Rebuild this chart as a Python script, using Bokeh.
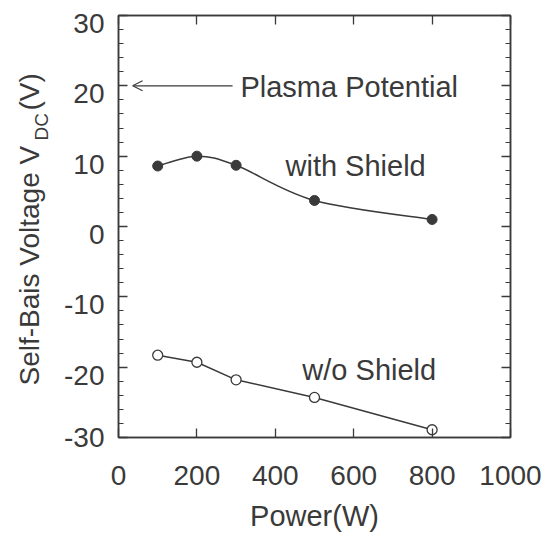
import math
from bokeh.plotting import figure
from bokeh.layouts import row
from bokeh.models import (Range1d, LinearAxis, SingleIntervalTicker, FixedTicker,
                          Label, Arrow, OpenHead, CustomJSTickFormatter)
from bokeh.core.properties import value
from bokeh.embed import file_html
from bokeh.resources import INLINE

# ---- data ----
power_with = [100, 200, 300, 500, 800]
vdc_with = [8.6, 10.0, 8.7, 3.7, 1.0]
power_without = [100, 200, 300, 500, 800]
vdc_without = [-18.3, -19.3, -21.8, -24.3, -28.9]
x_ticks = [0, 200, 400, 600, 800, 1000]
y_ticks = [-30, -20, -10, 0, 10, 20, 30]
y_tick_labels = ["-30", "-20", "-10", "0", "10", "20", "30"]
plasma_potential = 20

FONT = "Liberation Sans"
INK = "#3a3a3a"

# ---- layout constants (pixels) ----
H = 540
LEFT_W = 55
FRAME_L, FRAME_T, FRAME_R, FRAME_B = 118, 15, 510, 437
TOTAL_W = 547
Y0, Y1 = -30, 30
PX_PER_Y = (FRAME_B - FRAME_T) / (Y1 - Y0)
LABEL_DROP = 8 / PX_PER_Y          # tick labels sit ~8px below their ticks
TEXT_LIFT = 11 / PX_PER_Y          # correction for Label baseline placement


def py2y(py):
    return Y1 - (py - FRAME_T) / PX_PER_Y


yr = Range1d(Y0, Y1)

# ---- main figure ----
p = figure(width=TOTAL_W - LEFT_W, height=H, x_range=Range1d(0, 1000), y_range=yr,
           output_backend="svg", toolbar_location=None,
           min_border_left=FRAME_L - LEFT_W, min_border_right=TOTAL_W - FRAME_R,
           min_border_top=FRAME_T, min_border_bottom=H - FRAME_B)
p.grid.visible = False
p.background_fill_color = "white"
p.border_fill_color = "white"
p.outline_line_color = INK
p.outline_line_width = 1.5

empty_fmt = CustomJSTickFormatter(code="return ''")


def style(ax, labels=True, minor=True):
    ax.axis_line_color = INK
    ax.axis_line_width = 1.5
    ax.major_tick_in = 9
    ax.major_tick_out = 0
    ax.major_tick_line_color = INK
    ax.major_tick_line_width = 1.3
    if minor:
        ax.minor_tick_in = 5
        ax.minor_tick_out = 0
        ax.minor_tick_line_color = INK
        ax.minor_tick_line_width = 1.2
    else:
        ax.minor_tick_line_color = None
    if labels:
        ax.major_label_text_font = FONT
        ax.major_label_text_font_size = "28px"
        ax.major_label_text_color = INK
    else:
        ax.formatter = empty_fmt
        ax.major_label_text_font_size = "1px"
        ax.major_label_standoff = 0


xa = p.xaxis[0]
xa.ticker = FixedTicker(ticks=x_ticks)
style(xa, labels=True, minor=False)
xa.major_label_standoff = 28
xa.axis_label = "Power(W)"
xa.axis_label_text_font = FONT
xa.axis_label_text_font_size = "29px"
xa.axis_label_text_font_style = "normal"
xa.axis_label_text_color = INK
xa.axis_label_standoff = 12

# inner left axis: ticks only
ya = p.yaxis[0]
ya.ticker = SingleIntervalTicker(interval=10, num_minor_ticks=5)
style(ya, labels=False, minor=True)

# outer left axis: tick labels only, dropped slightly below the ticks
label_pos = [max(v - LABEL_DROP, Y0) for v in y_ticks]
ylab = LinearAxis(ticker=FixedTicker(ticks=label_pos, minor_ticks=[]),
                  formatter=CustomJSTickFormatter(args=dict(labels=y_tick_labels),
                                                  code="return labels[index]"))
ylab.axis_line_color = None
ylab.major_tick_line_color = None
ylab.minor_tick_line_color = None
ylab.major_tick_in = 0
ylab.major_tick_out = 0
ylab.major_label_standoff = 14
ylab.major_label_text_font = FONT
ylab.major_label_text_font_size = "28px"
ylab.major_label_text_color = INK
p.add_layout(ylab, "left")

top = LinearAxis(ticker=FixedTicker(ticks=x_ticks))
style(top, labels=False, minor=False)
p.add_layout(top, "above")

right = LinearAxis(ticker=SingleIntervalTicker(interval=10, num_minor_ticks=5))
style(right, labels=False, minor=True)
p.add_layout(right, "right")

# ---- smooth curve (Catmull-Rom -> Bezier) for "with Shield" ----
n = len(power_with)
x0s, y0s, x1s, y1s, cx0s, cy0s, cx1s, cy1s = [], [], [], [], [], [], [], []
for i in range(n - 1):
    xm, ym = (power_with[i - 1], vdc_with[i - 1]) if i > 0 else (power_with[i], vdc_with[i])
    xa_, ya_ = power_with[i], vdc_with[i]
    xb, yb = power_with[i + 1], vdc_with[i + 1]
    xp, yp = (power_with[i + 2], vdc_with[i + 2]) if i + 2 < n else (xb, yb)
    x0s.append(xa_); y0s.append(ya_); x1s.append(xb); y1s.append(yb)
    cx0s.append(xa_ + (xb - xm) / 6); cy0s.append(ya_ + (yb - ym) / 6)
    cx1s.append(xb - (xp - xa_) / 6); cy1s.append(yb - (yp - ya_) / 6)
p.bezier(x0=x0s, y0=y0s, x1=x1s, y1=y1s, cx0=cx0s, cy0=cy0s, cx1=cx1s, cy1=cy1s,
         line_color=INK, line_width=1.5)

p.line(power_without, vdc_without, line_color=INK, line_width=1.5)

p.scatter(power_with, vdc_with, marker="circle", size=10, fill_color=INK, line_color=INK)
p.scatter(power_without, vdc_without, marker="circle", size=10, fill_color="white",
          line_color=INK, line_width=1.3)

# ---- annotations inside the frame ----
p.add_layout(Arrow(end=OpenHead(size=10, line_color=INK, line_width=1.1),
                   x_start=291, y_start=plasma_potential, x_end=36, y_end=plasma_potential,
                   line_color=INK, line_width=1.1))


def lab(x, y, text, size="29px"):
    p.add_layout(Label(x=x, y=y + TEXT_LIFT, text=text, text_font=FONT, text_font_size=size,
                       text_color=INK, text_align="left", text_baseline="alphabetic"))


lab(311, 18.2, "Plasma Potential")
lab(426, 7.1, "with Shield")
lab(469, -22.0, "w/o Shield")

# ---- left strip: rotated y title with subscript ----
lf = figure(width=LEFT_W, height=H, x_range=Range1d(0, LEFT_W), y_range=yr,
            output_backend="svg", toolbar_location=None,
            x_axis_location=None, y_axis_location=None,
            min_border_left=0, min_border_right=0, min_border_top=0, min_border_bottom=0)
lf.grid.visible = False
lf.outline_line_color = None
lf.background_fill_color = "white"
lf.border_fill_color = "white"

title_parts = ["Self-Bais Voltage V", "DC", "(V)"]
lf.text(x=[29], y=[py2y(385)], text=[title_parts[0]], angle=math.pi / 2,
        text_font=value(FONT), text_font_size="28px", text_color=INK,
        text_align="left", text_baseline="middle")
lf.text(x=[41], y=[py2y(140)], text=[title_parts[1]], angle=math.pi / 2,
        text_font=value(FONT), text_font_size="19px", text_color=INK,
        text_align="left", text_baseline="middle")
lf.text(x=[29], y=[py2y(110)], text=[title_parts[2]], angle=math.pi / 2,
        text_font=value(FONT), text_font_size="28px", text_color=INK,
        text_align="left", text_baseline="middle")

layout = row(lf, p)
open("out.html", "w").write(file_html(layout, INLINE))
